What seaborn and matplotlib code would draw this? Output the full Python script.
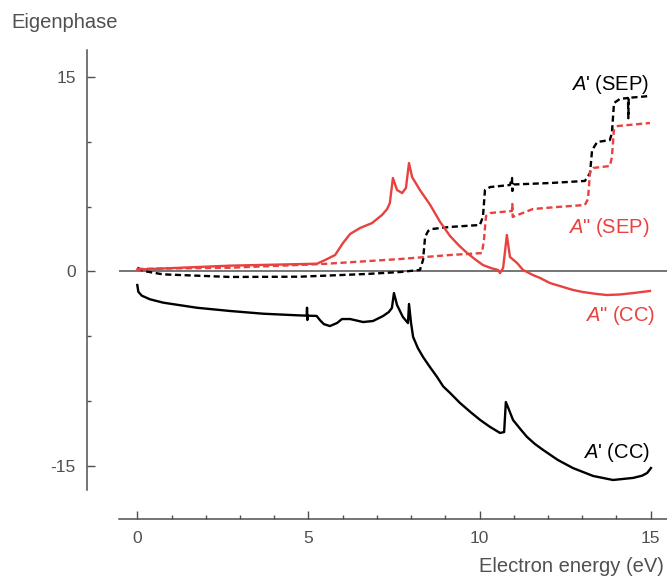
import matplotlib
matplotlib.use("Agg")
import matplotlib.pyplot as plt
import seaborn as sns
import numpy as np

# ---------------- data ----------------
# A' (CC) : black solid
cc1_e = [0.00, 0.03, 0.13, 0.37, 0.76, 1.74, 2.71, 3.68, 4.66, 4.95, 4.96, 4.97, 4.98, 5.24, 5.34, 5.45,
         5.63, 5.84, 5.98, 6.22, 6.60, 6.89, 7.18, 7.35, 7.44, 7.50, 7.59, 7.76, 7.91, 7.94, 8.00,
         8.06, 8.20, 8.35, 8.55, 8.76, 8.94, 9.14, 9.43, 9.75, 10.02, 10.30, 10.60, 10.72, 10.77,
         10.83, 10.98, 11.20, 11.39, 11.62, 11.86, 12.29, 12.73, 13.32, 13.90, 14.49, 14.75, 14.90, 15.01]
cc1_v = [-1.04, -1.56, -1.86, -2.14, -2.40, -2.79, -3.04, -3.25, -3.37, -3.40, -2.79, -3.73, -3.40, -3.42, -3.75, -4.05,
         -4.20, -3.96, -3.66, -3.66, -3.89, -3.81, -3.43, -3.12, -2.81, -1.66, -2.58, -3.50, -3.97, -2.50, -3.97,
         -5.04, -5.90, -6.58, -7.35, -8.12, -8.85, -9.35, -10.12, -10.85, -11.43, -11.95, -12.43, -12.36, -10.05,
         -10.43, -11.43, -12.15, -12.74, -13.28, -13.74, -14.51, -15.13, -15.74, -16.05, -15.89, -15.72, -15.51, -15.13]

# A'' (CC) : red solid
cc2_e = [0.00, 2.71, 5.25, 5.50, 5.78, 6.01, 6.22, 6.51, 6.86, 7.15, 7.30, 7.38, 7.47, 7.59, 7.74, 7.85, 7.94,
         8.03, 8.26, 8.56, 8.85, 9.14, 9.40, 9.64, 9.88, 10.10, 10.35, 10.54, 10.60, 10.69, 10.80, 10.89, 11.10,
         11.27, 11.56, 11.77, 12.06, 12.35, 12.73, 13.02, 13.43, 13.72, 14.10, 14.49, 14.98]
cc2_v = [0.15, 0.45, 0.60, 0.90, 1.27, 2.19, 2.89, 3.35, 3.73, 4.35, 4.80, 5.27, 7.20, 6.27, 6.04, 6.43, 8.35,
         7.27, 6.27, 5.12, 3.81, 2.73, 2.00, 1.42, 0.92, 0.50, 0.25, 0.12, -0.12, 0.27, 2.81, 1.12, 0.65,
         0.12, -0.27, -0.50, -0.89, -1.12, -1.42, -1.58, -1.73, -1.81, -1.77, -1.66, -1.50]

# A' (SEP) : black dashed
sep1_e = [0.00, 0.18, 0.75, 2.71, 4.75, 6.71, 7.68, 8.26, 8.35, 8.41, 8.50, 8.61, 9.14, 10.01,
          10.10, 10.16, 10.31, 10.89, 10.95, 10.96, 11.00, 12.06, 13.08, 13.23, 13.29, 13.44,
          13.81, 13.87, 13.93, 14.10, 14.34, 14.35, 14.36, 14.98]
sep1_v = [0.29, 0.04, -0.22, -0.42, -0.40, -0.19, -0.04, 0.12, 0.89, 2.66, 3.12, 3.27, 3.43, 3.58,
          4.20, 6.27, 6.50, 6.66, 7.20, 6.20, 6.70, 6.81, 6.97, 7.58, 9.35, 9.97,
          10.12, 10.66, 12.97, 13.28, 13.36, 11.80, 13.37, 13.51]

# A'' (SEP) : red dashed
sep2_e = [0.00, 2.71, 5.43, 7.68, 9.14, 10.07, 10.13, 10.19, 10.31, 10.95, 10.96, 10.97, 11.56,
          12.29, 13.08, 13.17, 13.23, 13.32, 13.81, 13.87, 13.93, 14.04, 14.98]
sep2_v = [0.20, 0.29, 0.58, 0.96, 1.27, 1.42, 2.42, 4.27, 4.50, 4.66, 5.20, 4.20, 4.81,
          4.97, 5.12, 5.58, 7.66, 7.97, 8.12, 8.81, 10.97, 11.20, 11.43]

x_ticks = [0, 5, 10, 15]
y_ticks = [-15, 0, 15]
x_label = "Electron energy (eV)"
y_label = "Eigenphase"

# ---------------- style ----------------
plt.rcParams['font.family'] = ['Liberation Sans', 'DejaVu Sans']
plt.rcParams['mathtext.fontset'] = 'custom'
plt.rcParams['mathtext.it'] = 'Liberation Sans:italic'
plt.rcParams['mathtext.rm'] = 'Liberation Sans'

RED = '#e8413f'
GRAY = '#505050'

W, H = 667, 578
fig = plt.figure(figsize=(W / 100, H / 100), dpi=100)

# pixel geometry
x0_px, px_per_e = 137.3, 34.22
y0_px, px_per_v = 271.5, 12.99
def e_of(px): return (px - x0_px) / px_per_e
def v_of(py): return (y0_px - py) / px_per_v

ax_left, ax_right, ax_top, ax_bottom = 87, 667, 50, 518.7
ax = fig.add_axes([ax_left / W, 1 - ax_bottom / H, (ax_right - ax_left) / W, (ax_bottom - ax_top) / H])
ax.set_xlim(e_of(ax_left), e_of(ax_right))
ax.set_ylim(v_of(ax_bottom), v_of(ax_top))

# zero line
ax.hlines(0, e_of(119), e_of(667), color=GRAY, lw=1.1, zorder=1)

lw = 1.7
dash = (0, (2.6, 1.5))
sns.lineplot(x=sep1_e, y=sep1_v, ax=ax, color='black', lw=lw, linestyle=dash,
             estimator=None, sort=False, zorder=3)
sns.lineplot(x=sep2_e, y=sep2_v, ax=ax, color=RED, lw=lw, linestyle=dash,
             estimator=None, sort=False, zorder=3)
sns.lineplot(x=cc1_e, y=cc1_v, ax=ax, color='black', lw=lw, estimator=None, sort=False, zorder=4)
sns.lineplot(x=cc2_e, y=cc2_v, ax=ax, color=RED, lw=lw, estimator=None, sort=False, zorder=4)

# spines
for s in ['top', 'right']:
    ax.spines[s].set_visible(False)
for s in ['left', 'bottom']:
    ax.spines[s].set_color(GRAY)
    ax.spines[s].set_linewidth(1.1)
ax.spines['left'].set_bounds(v_of(490), v_of(ax_top))
ax.spines['bottom'].set_bounds(e_of(119), e_of(667))

ax.set_xticks(x_ticks)
ax.set_xticks(np.arange(1, 15, 1), minor=True)
ax.set_yticks(y_ticks)
ax.set_yticks([-10, -5, 5, 10], minor=True)
ax.set_xticklabels([str(t) for t in x_ticks])
ax.set_yticklabels([str(t) for t in y_ticks])
ax.tick_params(which='both', direction='in', color=GRAY, width=1.0, labelcolor=GRAY, labelsize=12.5)
ax.tick_params(which='major', length=6)
ax.tick_params(which='minor', length=3)
ax.tick_params(axis='x', pad=9)
ax.tick_params(axis='y', pad=8)
ax.grid(False)

ax.set_xlabel(x_label, fontsize=14.5, color=GRAY, ha='right', va='center')
ax.xaxis.set_label_coords(664 / W, 1 - 567 / H, transform=fig.transFigure)
ax.set_ylabel(y_label, fontsize=14.5, color=GRAY, rotation=0, ha='left', va='center')
ax.yaxis.set_label_coords(11 / W, 1 - 22 / H, transform=fig.transFigure)

# series labels
ax.text(14.95, 14.36, r"$A$' (SEP)", color='black', fontsize=14.5, ha='right', va='center')
ax.text(14.98, 3.35, r'$A$" (SEP)', color=RED, fontsize=14.5, ha='right', va='center')
ax.text(15.13, -3.35, r'$A$" (CC)', color=RED, fontsize=14.5, ha='right', va='center')
ax.text(14.98, -13.9, r"$A$' (CC)", color='black', fontsize=14.5, ha='right', va='center')

fig.savefig('out.png', dpi=100)
